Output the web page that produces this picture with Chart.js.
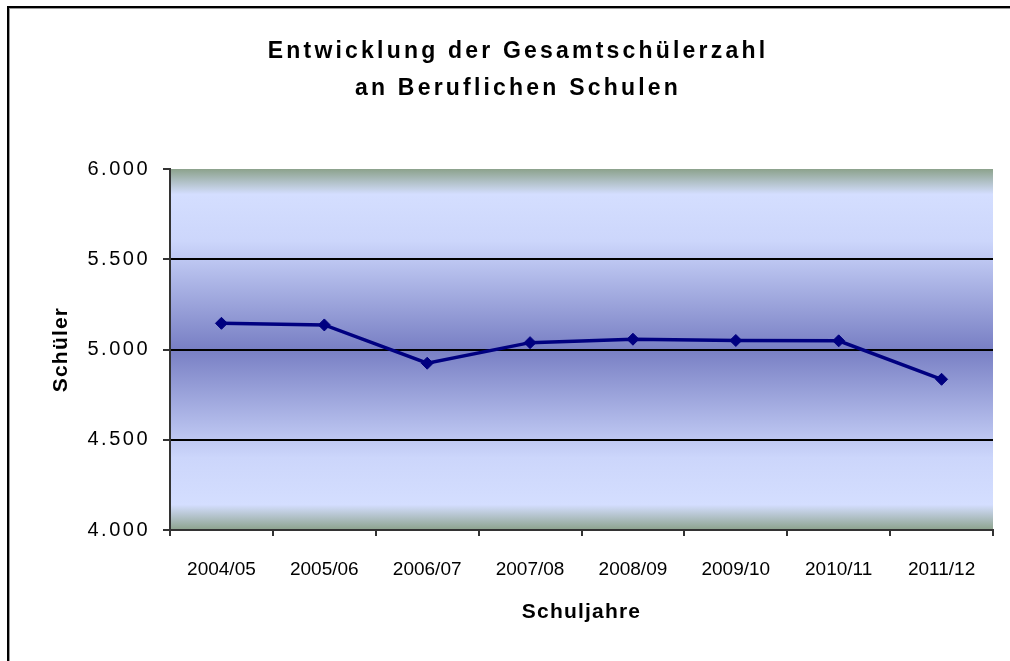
<!DOCTYPE html>
<html>
<head>
<meta charset="utf-8">
<script src="https://cdn.jsdelivr.net/npm/chart.js@4/dist/chart.umd.min.js"></script>
<style>
    body { margin: 0; background: #fff; }
    #wrap { position: relative; width: 1010px; height: 661px; overflow: hidden; background: #fff; }
    #frame {
        position: absolute; left: 7px; top: 6px; width: 1100px; height: 800px;
        border-top: 2px solid #000; border-left: 2px solid #000;
        box-shadow: inset 1px 1px 0 #9a9a9a; pointer-events: none;
    }
    canvas { position: absolute; left: 0; top: 0; }
</style>
</head>
<body>
<div id="wrap">
    <canvas id="schuelerChart" width="1010" height="661"></canvas>
    <div id="frame"></div>
</div>
<script>
const titleLines = ["Entwicklung der Gesamtschülerzahl", "an Beruflichen Schulen"];
const years = ["2004/05", "2005/06", "2006/07", "2007/08", "2008/09", "2009/10", "2010/11", "2011/12"];
const students = [5145, 5136, 4924, 5038, 5057, 5050, 5048, 4835];
const yTitle = "Schüler";
const xTitle = "Schuljahre";

const FONT = '"Liberation Sans", Arial, sans-serif';

function formatDE(v) {
    return String(v).replace(/\B(?=(\d{3})+(?!\d))/g, ".");
}

// canvas has letterSpacing, chart.js has no option for it -> wrap the draw methods
function spaceOut(scale, method, spacing) {
    if (!scale || scale["_spaced_" + method]) return;
    const orig = scale[method];
    scale["_spaced_" + method] = true;
    scale[method] = function (...args) {
        this.ctx.save();
        this.ctx.letterSpacing = spacing;
        orig.apply(this, args);
        this.ctx.restore();
    };
}

const spacedText = {
    id: "spacedText",
    afterLayout(chart) {
        spaceOut(chart.scales.y, "drawLabels", "2.5px");
        spaceOut(chart.scales.y, "drawTitle", "1.2px");
        spaceOut(chart.scales.x, "drawTitle", "1.2px");
    }
};

const plotBackground = {
    id: "plotBackground",
    beforeDraw(chart) {
        const { ctx, chartArea: a } = chart;
        const g = ctx.createLinearGradient(0, a.top, 0, a.bottom);
        g.addColorStop(0, "rgb(140,162,140)");
        g.addColorStop(0.07, "rgb(212,222,255)");
        g.addColorStop(0.2, "rgb(204,214,251)");
        g.addColorStop(0.5, "rgb(120,127,196)");
        g.addColorStop(0.8, "rgb(204,214,251)");
        g.addColorStop(0.93, "rgb(212,222,255)");
        g.addColorStop(1, "rgb(140,162,140)");
        ctx.save();
        ctx.fillStyle = g;
        ctx.fillRect(a.left, a.top, a.right - a.left, a.bottom - a.top);
        ctx.restore();
    }
};

const chartTitle = {
    id: "chartTitle",
    afterDraw(chart) {
        const ctx = chart.ctx;
        ctx.save();
        ctx.font = "bold 23px " + FONT;
        ctx.letterSpacing = "3.2px";
        ctx.fillStyle = "#000";
        ctx.textAlign = "center";
        ctx.textBaseline = "middle";
        titleLines.forEach((t, i) => ctx.fillText(t, 518, 52 + i * 37));
        ctx.restore();
    }
};

new Chart(document.getElementById("schuelerChart"), {
    type: "line",
    data: {
        labels: years,
        datasets: [{
            label: yTitle,
            data: students,
            borderColor: "#000080",
            backgroundColor: "#000080",
            borderWidth: 3.5,
            pointStyle: "rectRot",
            pointRadius: 6,
            pointBorderWidth: 1,
            pointBackgroundColor: "#000080",
            pointBorderColor: "#000080",
            tension: 0,
            fill: false
        }]
    },
    options: {
        responsive: false,
        animation: false,
        devicePixelRatio: 1,
        layout: { padding: { top: 169, right: 17, left: 0, bottom: 0 } },
        plugins: {
            legend: { display: false },
            title: { display: false },
            tooltip: { enabled: false }
        },
        scales: {
            x: {
                offset: true,
                grid: {
                    offset: true,
                    drawOnChartArea: false,
                    drawTicks: true,
                    tickLength: 6,
                    tickColor: "#333",
                    lineWidth: 2
                },
                border: { color: "#333", width: 2 },
                ticks: {
                    color: "#000",
                    padding: 22,
                    maxRotation: 0,
                    autoSkip: false,
                    font: { family: FONT, size: 19 }
                },
                title: {
                    display: true,
                    text: xTitle,
                    color: "#000",
                    font: { family: FONT, size: 21, weight: "bold" },
                    padding: { top: 0, bottom: 36 }
                },
                afterFit(scale) { scale.height = 131; }
            },
            y: {
                min: 4000,
                max: 6000,
                grid: {
                    color: c => (c.tick && (c.tick.value === 6000 || c.tick.value === 4000)) ? "rgba(0,0,0,0)" : "#000",
                    tickColor: "#333",
                    tickLength: 7,
                    lineWidth: 2
                },
                border: { color: "#333", width: 2 },
                ticks: {
                    stepSize: 500,
                    color: "#000",
                    padding: 13,
                    font: { family: FONT, size: 20 },
                    callback: v => formatDE(v)
                },
                title: {
                    display: true,
                    text: yTitle,
                    color: "#000",
                    font: { family: FONT, size: 21, weight: "bold" },
                    padding: { top: 49, bottom: 0 }
                },
                afterFit(scale) { scale.width = 170; }
            }
        }
    },
    plugins: [plotBackground, spacedText, chartTitle]
});
</script>
</body>
</html>
